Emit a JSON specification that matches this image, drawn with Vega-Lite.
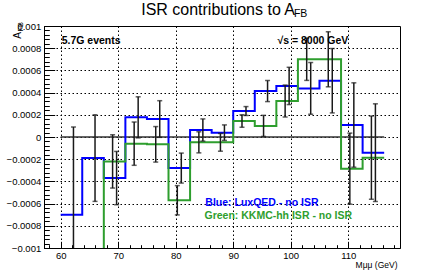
{
  "$schema": "https://vega.github.io/schema/vega-lite/v6.json",
  "width": 356,
  "height": 222,
  "autosize": {"type": "none"},
  "padding": {"left": 44, "top": 26, "right": 43, "bottom": 29},
  "background": "white",
  "config": {
    "view": {"stroke": "black", "strokeWidth": 1},
    "font": "Liberation Sans",
    "text": {"font": "Liberation Sans", "color": "black"},
    "axis": {
      "labelFont": "Liberation Sans",
      "labelFontSize": 9.5,
      "labelColor": "black",
      "labelFlush": false,
      "labelOverlap": false,
      "domainColor": "black",
      "domainWidth": 1,
      "tickColor": "black",
      "tickWidth": 1,
      "titleFont": "Liberation Sans",
      "titleFontWeight": "normal",
      "titleColor": "black",
      "gridColor": "black",
      "gridDash": [1.5, 2.5],
      "gridOpacity": 1,
      "gridWidth": 1
    }
  },
  "datasets": {
    "edges": [
      {"s": "Blue", "m": 60, "a": -0.0007},
      {"s": "Blue", "m": 63.75, "a": -0.00019},
      {"s": "Blue", "m": 67.5, "a": -0.00037},
      {"s": "Blue", "m": 71.25, "a": 0.000177},
      {"s": "Blue", "m": 75, "a": 0.000162},
      {"s": "Blue", "m": 78.75, "a": -0.00028},
      {"s": "Blue", "m": 82.5, "a": 0.000063},
      {"s": "Blue", "m": 86.25, "a": 0.000039},
      {"s": "Blue", "m": 90, "a": 0.000234},
      {"s": "Blue", "m": 93.75, "a": 0.000414},
      {"s": "Blue", "m": 97.5, "a": 0.00046},
      {"s": "Blue", "m": 101.25, "a": 0.000438},
      {"s": "Blue", "m": 105, "a": 0.000507},
      {"s": "Blue", "m": 108.75, "a": 0.000108},
      {"s": "Blue", "m": 112.5, "a": -0.000141},
      {"s": "Blue", "m": 116.25, "a": -0.000141},
      {"s": "Green", "m": 60, "a": -0.0014},
      {"s": "Green", "m": 63.75, "a": -0.0014},
      {"s": "Green", "m": 67.5, "a": -0.00022},
      {"s": "Green", "m": 71.25, "a": -0.00006},
      {"s": "Green", "m": 75, "a": -0.000066},
      {"s": "Green", "m": 78.75, "a": -0.00057},
      {"s": "Green", "m": 82.5, "a": -0.000048},
      {"s": "Green", "m": 86.25, "a": -0.000048},
      {"s": "Green", "m": 90, "a": 0.000144},
      {"s": "Green", "m": 93.75, "a": 0.0001},
      {"s": "Green", "m": 97.5, "a": 0.000324},
      {"s": "Green", "m": 101.25, "a": 0.0007},
      {"s": "Green", "m": 105, "a": 0.0007},
      {"s": "Green", "m": 108.75, "a": -0.000285},
      {"s": "Green", "m": 112.5, "a": -0.000186},
      {"s": "Green", "m": 116.25, "a": -0.000186}
    ],
    "bins": [
      {"s": "Blue", "c": 61.875, "v": -0.0007, "e": 0.00079},
      {"s": "Blue", "c": 65.625, "v": -0.00019, "e": 0.00039},
      {"s": "Blue", "c": 69.375, "v": -0.00037, "e": 0.00024},
      {"s": "Blue", "c": 73.125, "v": 0.000177, "e": 0.000185},
      {"s": "Blue", "c": 76.875, "v": 0.000162, "e": 0.000165},
      {"s": "Blue", "c": 80.625, "v": -0.00028, "e": 0.000135},
      {"s": "Blue", "c": 84.375, "v": 0.000063, "e": 0.0001},
      {"s": "Blue", "c": 88.125, "v": 0.000039, "e": 0.00007},
      {"s": "Blue", "c": 91.875, "v": 0.000234, "e": 0.00004},
      {"s": "Blue", "c": 95.625, "v": 0.000414, "e": 0.000095},
      {"s": "Blue", "c": 99.375, "v": 0.00046, "e": 0.000168},
      {"s": "Blue", "c": 103.125, "v": 0.000438, "e": 0.000233},
      {"s": "Blue", "c": 106.875, "v": 0.000507, "e": 0.00029},
      {"s": "Blue", "c": 110.625, "v": 0.000108, "e": 0.00038},
      {"s": "Blue", "c": 114.375, "v": -0.000141, "e": 0.00044},
      {"s": "Green", "c": 69.375, "v": -0.00022, "e": 0.00024},
      {"s": "Green", "c": 73.125, "v": -0.00006, "e": 0.000195},
      {"s": "Green", "c": 76.875, "v": -0.000066, "e": 0.00016},
      {"s": "Green", "c": 80.625, "v": -0.00057, "e": 0.000132},
      {"s": "Green", "c": 84.375, "v": -0.000048, "e": 0.000095},
      {"s": "Green", "c": 88.125, "v": -0.000048, "e": 0.00008},
      {"s": "Green", "c": 91.875, "v": 0.000144, "e": 0.000056},
      {"s": "Green", "c": 95.625, "v": 0.0001, "e": 0.000095},
      {"s": "Green", "c": 99.375, "v": 0.000324, "e": 0.000144},
      {"s": "Green", "c": 103.125, "v": 0.0007, "e": 0.00019},
      {"s": "Green", "c": 106.875, "v": 0.0007, "e": 0.000248},
      {"s": "Green", "c": 110.625, "v": -0.000285, "e": 0.00032},
      {"s": "Green", "c": 114.375, "v": -0.000186, "e": 0.000375}
    ]
  },
  "resolve": {"axis": {"x": "independent", "y": "independent"}},
  "layer": [
    {
      "data": {"values": [{"m": 60, "m2": 116.25, "a": 0}]},
      "mark": {"type": "rule", "color": "#333333", "strokeWidth": 1.5},
      "encoding": {
        "x": {"field": "m", "type": "quantitative", "scale": {"domain": [57.1, 119], "nice": false, "zero": false},
          "axis": {"orient": "bottom", "values": [58, 62, 64, 66, 68, 72, 74, 76, 78, 82, 84, 86, 88, 92, 94, 96, 98, 102, 104, 106, 108, 112, 114, 116, 118],
            "tickSize": -3.3, "labels": false, "domain": false, "grid": false, "title": null}},
        "x2": {"field": "m2"},
        "y": {"field": "a", "type": "quantitative", "scale": {"domain": [-0.001, 0.001], "nice": false, "zero": false},
          "axis": {"orient": "left", "values": [-0.00096, -0.00092, -0.00088, -0.00084, -0.00076, -0.00072, -0.00068, -0.00064, -0.00056, -0.00052, -0.00048, -0.00044, -0.00036, -0.00032, -0.00028, -0.00024, -0.00016, -0.00012, -0.00008, -0.00004, 0.00004, 0.00008, 0.00012, 0.00016, 0.00024, 0.00028, 0.00032, 0.00036, 0.00044, 0.00048, 0.00052, 0.00056, 0.00064, 0.00068, 0.00072, 0.00076, 0.00084, 0.00088, 0.00092, 0.00096],
            "tickSize": -5.3, "labels": false, "domain": false, "grid": false, "title": null}}
      }
    },
    {
      "data": {"name": "edges"},
      "mark": {"type": "line", "interpolate": "step-after", "strokeWidth": 2, "clip": true},
      "encoding": {
        "x": {"field": "m", "type": "quantitative", "scale": {"domain": [57.1, 119], "nice": false, "zero": false},
          "axis": {"orient": "bottom", "values": [60, 70, 80, 90, 100, 110], "tickSize": -6.7, "labelPadding": 9, "grid": true,
            "title": "Mμμ (GeV)", "titleFontSize": 8.5, "titleAnchor": "end", "titleAlign": "right", "titleX": 353, "titleY": 19, "titleBaseline": "alphabetic"}},
        "y": {"field": "a", "type": "quantitative", "scale": {"domain": [-0.001, 0.001], "nice": false, "zero": false},
          "axis": {"orient": "left", "values": [-0.001, -0.0008, -0.0006, -0.0004, -0.0002, 0, 0.0002, 0.0004, 0.0006, 0.0008, 0.001],
            "format": "~g", "tickSize": -10.7, "labelPadding": 14, "grid": true,
            "title": "A", "titleFontSize": 10, "titleAngle": 270, "titleX": -23.3, "titleY": 12.3, "titleAlign": "left", "titleBaseline": "alphabetic"}},
        "color": {"field": "s", "type": "nominal", "scale": {"domain": ["Blue", "Green"], "range": ["#0000ff", "#2e9e2e"]}, "legend": null}
      }
    },
    {
      "data": {"name": "bins"},
      "transform": [{"filter": "datum.s === 'Green'"}],
      "mark": {"type": "errorbar", "clip": true, "thickness": 1.5, "color": "#1a1a1a", "rule": {"xOffset": -2}, "ticks": {"size": 5, "xOffset": -2}},
      "encoding": {
        "x": {"field": "c", "type": "quantitative", "axis": null},
        "y": {"field": "v", "type": "quantitative", "axis": null},
        "yError": {"field": "e"}
      }
    },
    {
      "data": {"name": "bins"},
      "transform": [{"filter": "datum.s === 'Blue'"}],
      "mark": {"type": "errorbar", "clip": true, "thickness": 1.5, "color": "#1a1a1a", "rule": {"xOffset": 2}, "ticks": {"size": 5, "xOffset": 2}},
      "encoding": {
        "x": {"field": "c", "type": "quantitative", "axis": null},
        "y": {"field": "v", "type": "quantitative", "axis": null},
        "yError": {"field": "e"}
      }
    },
    {
      "data": {"values": [{"m": 100.75, "a": 0.0011, "t": "ISR contributions to A"}]},
      "mark": {"type": "text", "align": "right", "baseline": "alphabetic", "fontSize": 16},
      "encoding": {
        "x": {"field": "m", "type": "quantitative", "axis": null},
        "y": {"field": "a", "type": "quantitative", "axis": null},
        "text": {"field": "t"}
      }
    },
    {
      "data": {"values": [{"m": 100.55, "a": 0.001078, "t": "FB"}]},
      "mark": {"type": "text", "align": "left", "baseline": "alphabetic", "fontSize": 10.5},
      "encoding": {
        "x": {"field": "m", "type": "quantitative", "axis": null},
        "y": {"field": "a", "type": "quantitative", "axis": null},
        "text": {"field": "t"}
      }
    },
    {
      "data": {"values": [{"m": 53.44, "a": 0.00095, "t": "FB"}]},
      "mark": {"type": "text", "align": "left", "baseline": "alphabetic", "fontSize": 7.5, "angle": 270},
      "encoding": {
        "x": {"field": "m", "type": "quantitative", "axis": null},
        "y": {"field": "a", "type": "quantitative", "axis": null},
        "text": {"field": "t"}
      }
    },
    {
      "data": {"values": [{"m": 60.17, "a": 0.000838, "t": "5.7G events"}]},
      "mark": {"type": "text", "align": "left", "baseline": "alphabetic", "fontSize": 10.5, "fontWeight": "bold"},
      "encoding": {
        "x": {"field": "m", "type": "quantitative", "axis": null},
        "y": {"field": "a", "type": "quantitative", "axis": null},
        "text": {"field": "t"}
      }
    },
    {
      "data": {"values": [{"m": 110, "a": 0.000838, "t": "√s = 8000 GeV"}]},
      "mark": {"type": "text", "align": "right", "baseline": "alphabetic", "fontSize": 10.5, "fontWeight": "bold"},
      "encoding": {
        "x": {"field": "m", "type": "quantitative", "axis": null},
        "y": {"field": "a", "type": "quantitative", "axis": null},
        "text": {"field": "t"}
      }
    },
    {
      "data": {"values": [{"m": 85.15, "a": -0.000626, "t": "Blue: LuxQED - no ISR"}]},
      "mark": {"type": "text", "align": "left", "baseline": "alphabetic", "fontSize": 10.5, "fontWeight": "bold", "color": "#0000ff"},
      "encoding": {
        "x": {"field": "m", "type": "quantitative", "axis": null},
        "y": {"field": "a", "type": "quantitative", "axis": null},
        "text": {"field": "t"}
      }
    },
    {
      "data": {"values": [{"m": 85.0, "a": -0.000739, "t": "Green: KKMC-hh ISR - no ISR"}]},
      "mark": {"type": "text", "align": "left", "baseline": "alphabetic", "fontSize": 10.5, "fontWeight": "bold", "color": "#2e9e2e"},
      "encoding": {
        "x": {"field": "m", "type": "quantitative", "axis": null},
        "y": {"field": "a", "type": "quantitative", "axis": null},
        "text": {"field": "t"}
      }
    }
  ]
}
